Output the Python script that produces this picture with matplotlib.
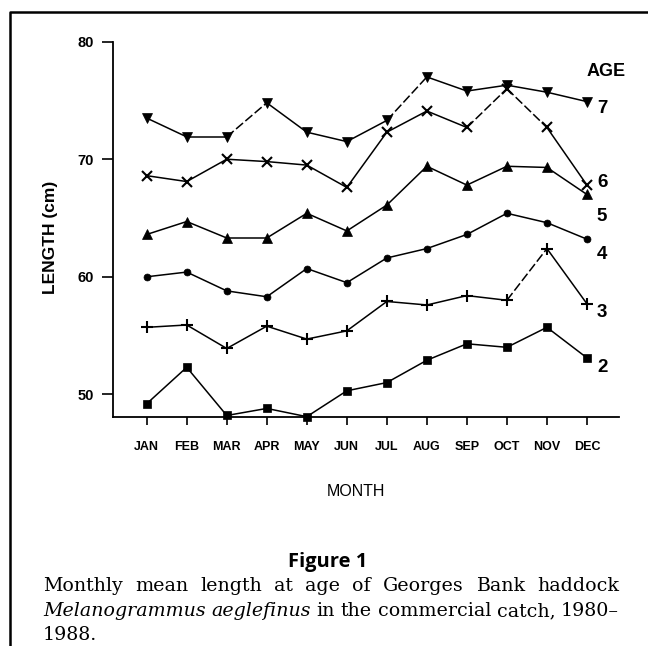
import matplotlib
matplotlib.use("Agg")
import matplotlib.pyplot as plt
from matplotlib.lines import Line2D

# Monthly mean length (cm) at age
MONTHS = ["JAN", "FEB", "MAR", "APR", "MAY", "JUN",
          "JUL", "AUG", "SEP", "OCT", "NOV", "DEC"]
AGE7 = [73.5, 71.9, 71.9, 74.8, 72.3, 71.5, 73.3, 77.0, 75.8, 76.3, 75.7, 74.9]
AGE6 = [68.6, 68.1, 70.0, 69.8, 69.5, 67.6, 72.3, 74.1, 72.7, 76.0, 72.7, 67.8]
AGE5 = [63.6, 64.7, 63.3, 63.3, 65.4, 63.9, 66.1, 69.4, 67.8, 69.4, 69.3, 67.0]
AGE4 = [60.0, 60.4, 58.8, 58.3, 60.7, 59.5, 61.6, 62.4, 63.6, 65.4, 64.6, 63.2]
AGE3 = [55.7, 55.9, 53.9, 55.8, 54.7, 55.4, 57.9, 57.6, 58.4, 58.0, 62.4, 57.7]
AGE2 = [49.2, 52.3, 48.2, 48.8, 48.1, 50.3, 51.0, 52.9, 54.3, 54.0, 55.7, 53.1]
YTICKS = [50, 60, 70, 80]

# age label -> (values, marker, marker size, label y position)
SERIES = {
    "7": (AGE7, "v", 7, 74.3),
    "6": (AGE6, "x", 6.5, 68.0),
    "5": (AGE5, "^", 7, 65.1),
    "4": (AGE4, "o", 5, 61.9),
    "3": (AGE3, "+", 8.5, 57.0),
    "2": (AGE2, "s", 6, 52.3),
}
# segments printed broken/dashed in the original (age, start month index)
DASHED = {("7", 2), ("7", 6), ("6", 8), ("6", 9), ("3", 9)}

CAPTION = [
    [("Monthly", "normal"), ("mean", "normal"), ("length", "normal"),
     ("at", "normal"), ("age", "normal"), ("of", "normal"),
     ("Georges", "normal"), ("Bank", "normal"), ("haddock", "normal")],
    [("Melanogrammus", "italic"), ("aeglefinus", "italic"), ("in", "normal"),
     ("the", "normal"), ("commercial", "normal"), ("catch,", "normal"),
     ("1980–", "normal")],
    [("1988.", "normal")],
]

SANS = "Liberation Sans"
SERIF = "DejaVu Serif"

fig = plt.figure(figsize=(6.48, 6.46), dpi=100)
ax = fig.add_axes([0.1739, 0.355, 0.7813, 0.5805])

x = list(range(1, len(MONTHS) + 1))
for age, (vals, mk, ms, ly) in SERIES.items():
    for i in range(len(vals) - 1):
        ls = "--" if (age, i) in DASHED else "-"
        ln, = ax.plot(x[i:i + 2], vals[i:i + 2], color="black", lw=1.1,
                      linestyle=ls, clip_on=False)
        if ls == "--":
            ln.set_dashes((6, 2))
    ax.plot(x, vals, linestyle="none", marker=mk, markersize=ms,
            color="black", markeredgewidth=1.5 if mk in "x+" else 0.5,
            clip_on=False, zorder=3)
    ax.text(12.25, ly, age, fontsize=13.5, fontweight="bold", family=SANS,
            ha="left", va="center")

ax.text(12.48, 77.5, "AGE", fontsize=13, fontweight="bold", family=SANS,
        ha="center", va="center")

ax.set_xlim(0.15, 12.8)
ax.set_ylim(48.1, 80)
ax.set_xticks(x)
ax.set_xticklabels(MONTHS)
ax.set_yticks(YTICKS)
ax.set_yticklabels([str(t) for t in YTICKS])

for lab in ax.get_xticklabels():
    lab.set_fontsize(9)
    lab.set_fontweight("bold")
    lab.set_family(SANS)
for lab in ax.get_yticklabels():
    lab.set_fontsize(10.5)
    lab.set_fontweight("bold")
    lab.set_family(SANS)

ax.tick_params(axis="x", length=5.5, width=1.2, pad=12)
ax.tick_params(axis="y", length=7.7, width=1.2, pad=6)
ax.spines["top"].set_visible(False)
ax.spines["right"].set_visible(False)
ax.spines["left"].set_linewidth(1.3)
ax.spines["bottom"].set_linewidth(1.3)

ax.set_ylabel("LENGTH (cm)", fontsize=12.5, fontweight="bold", family=SANS)
ax.yaxis.set_label_coords(-0.108, 0.479)

fig.text(356 / 648, 1 - 492 / 646, "MONTH", fontsize=11.5, family=SANS,
         ha="center", va="center")
fig.text(328 / 648, 1 - 562 / 646, "Figure 1", fontsize=14.5,
         fontweight="bold", family="Open Sans", ha="center", va="center")

# page frame (left and top rules)
fig.add_artist(Line2D([10 / 648, 10 / 648, 1.0], [0.0, 1 - 12 / 646, 1 - 12 / 646],
                      transform=fig.transFigure, color="black", lw=1.8))

# caption, justified like the printed page
renderer = fig.canvas.get_renderer()
LEFT_PX, RIGHT_PX = 43, 619
PX_PER_PT = 100 / 72


def word_widths(words, size):
    widths = []
    for w, style in words:
        t = fig.text(0, 0, w, fontsize=size, family=SERIF, style=style)
        widths.append(t.get_window_extent(renderer).width)
        t.remove()
    return widths


# pick the largest size at which each justified line keeps a word gap >= 0.3 em
sizes = []
for words in CAPTION[:2]:
    total = sum(word_widths(words, 10)) / 10
    sizes.append((RIGHT_PX - LEFT_PX) / (total + (len(words) - 1) * 0.3 * PX_PER_PT))
CAP_SIZE = min(sizes)


def place_line(words, y_px, justify=True):
    widths = word_widths(words, CAP_SIZE)
    if justify and len(words) > 1:
        gap = (RIGHT_PX - LEFT_PX - sum(widths)) / (len(words) - 1)
    else:
        gap = 0
    xp = LEFT_PX
    for (w, style), wd in zip(words, widths):
        fig.text(xp / 648, 1 - y_px / 646, w, fontsize=CAP_SIZE, family=SERIF,
                 style=style, va="baseline", ha="left")
        xp += wd + gap


place_line(CAPTION[0], 591)
place_line(CAPTION[1], 616)
place_line(CAPTION[2], 640, justify=False)

fig.savefig("out.png", dpi=100)
